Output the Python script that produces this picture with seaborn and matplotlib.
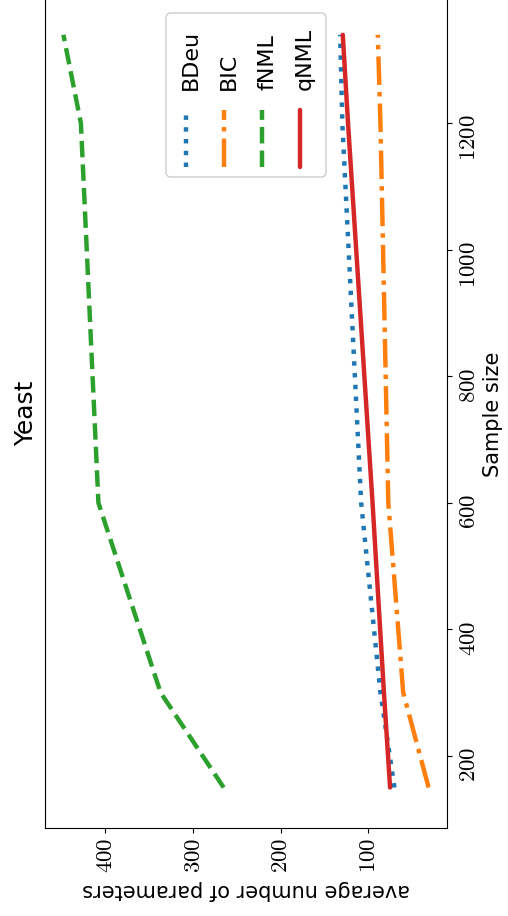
import numpy as np
import pandas as pd
import matplotlib
matplotlib.use("Agg")
import matplotlib.pyplot as plt
from matplotlib.lines import Line2D
from matplotlib.patches import FancyBboxPatch
import seaborn as sns

sample_sizes = [150, 300, 600, 1200, 1340]
bdeu_params = [70, 86, 108, 129.5, 132]
bic_params = [31, 60, 77, 86, 89]
fnml_params = [265, 337, 408, 428, 448]
qnml_params = [75, 82, 95, 123, 129]

methods = ["BDeu", "BIC", "fNML", "qNML"]
colors = ["#1f77b4", "#ff7f0e", "#2ca02c", "#d62728"]
styles = [":", "-.", "--", "-"]

param_ticks = [100, 200, 300, 400]
size_ticks = [200, 400, 600, 800, 1000, 1200]

df = pd.DataFrame({
    "Sample size": sample_sizes * 4,
    "params": bdeu_params + bic_params + fnml_params + qnml_params,
    "method": np.repeat(methods, len(sample_sizes)),
})

sns.set_style("ticks", {"axes.edgecolor": "black", "text.color": "black",
                        "axes.labelcolor": "black", "xtick.color": "black",
                        "ytick.color": "black"})
plt.rcParams["mathtext.fontset"] = "cm"
plt.rcParams["font.family"] = ["DejaVu Sans"]

W, H = 508, 916
fig = plt.figure(figsize=(W / 100, H / 100), dpi=100)
# the whole chart is rotated 90 degrees: sample size runs upwards, parameters run right-to-left
ax = fig.add_axes([45 / W, 88 / H, 402 / W, 828 / H])

lw = 3.2
for m, c, ls in zip(methods, colors, styles):
    sub = df[df["method"] == m]
    sns.lineplot(data=sub, x="params", y="Sample size", orient="y", estimator=None,
                 color=c, linestyle=ls, linewidth=lw, ax=ax)

ax.set_xlim(469, 10)
ax.set_ylim(86, 1395)
ax.spines["top"].set_visible(False)
ax.yaxis.tick_right()

ax.set_xticks(param_ticks, labels=[f"${t}$" for t in param_ticks], rotation=90, fontsize=16.5)
ax.set_yticks(size_ticks, labels=[f"${t}$" for t in size_ticks], rotation=90, fontsize=16.5)

ax.set_xlabel("average number of parameters", rotation=180, fontsize=15)
ax.xaxis.set_label_coords(0.5, -0.063)
ax.yaxis.set_label_position("right")
ax.set_ylabel("Sample size", fontsize=15)
ax.yaxis.set_label_coords(1.09, 0.5)

fig.text(26 / W, 1 - 413 / H, "Yeast", rotation=90, ha="center", va="center", fontsize=18)

# legend, drawn by hand because it is rotated too
box = FancyBboxPatch((1.66, (H - 177) / 100), 1.60, 1.64,
                     boxstyle="round,pad=0,rounding_size=0.05",
                     transform=fig.dpi_scale_trans, fc="white", ec="0.8", lw=1)
fig.add_artist(box)
for i, (m, c, ls) in enumerate(zip(methods, colors, styles)):
    hx = (186 + i * 38) / 100
    fig.add_artist(Line2D([hx, hx], [(H - 167) / 100, (H - 110) / 100],
                          transform=fig.dpi_scale_trans, color=c, linestyle=ls, linewidth=lw))
    fig.text(hx + 0.11, (H - 90) / 100, m, transform=fig.dpi_scale_trans,
             rotation=90, rotation_mode="anchor", ha="left", va="baseline", fontsize=16)

fig.savefig("out.png", dpi=100)
